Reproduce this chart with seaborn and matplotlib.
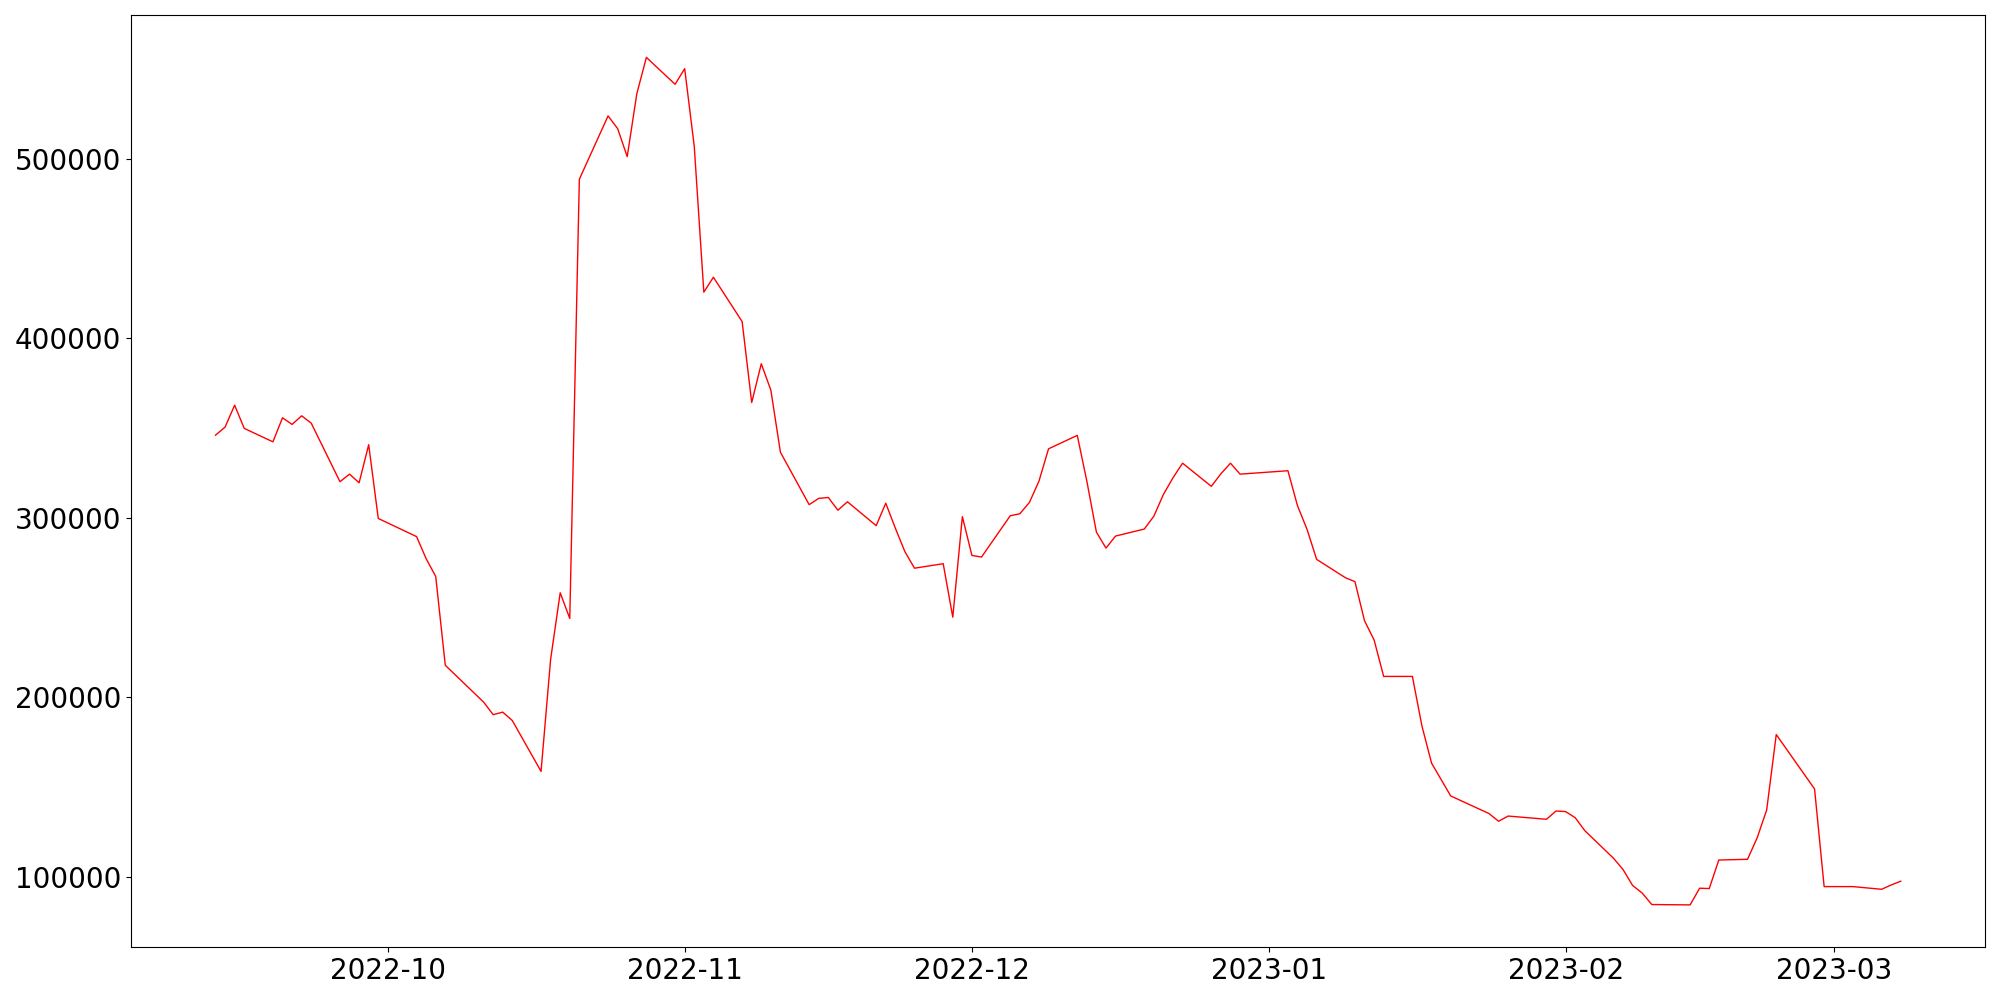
import pandas as pd
import matplotlib
matplotlib.use("Agg")
import matplotlib.pyplot as plt
import seaborn as sns

# Daily values
dates = [
    "2022-09-13", "2022-09-14", "2022-09-15", "2022-09-16", "2022-09-19",
    "2022-09-20", "2022-09-21", "2022-09-22", "2022-09-23", "2022-09-26",
    "2022-09-27", "2022-09-28", "2022-09-29", "2022-09-30", "2022-10-04",
    "2022-10-05", "2022-10-06", "2022-10-07", "2022-10-11", "2022-10-12",
    "2022-10-13", "2022-10-14", "2022-10-17", "2022-10-18", "2022-10-19",
    "2022-10-20", "2022-10-21", "2022-10-24", "2022-10-25", "2022-10-26",
    "2022-10-27", "2022-10-28", "2022-10-31", "2022-11-01", "2022-11-02",
    "2022-11-03", "2022-11-04", "2022-11-07", "2022-11-08", "2022-11-09",
    "2022-11-10", "2022-11-11", "2022-11-14", "2022-11-15", "2022-11-16",
    "2022-11-17", "2022-11-18", "2022-11-21", "2022-11-22", "2022-11-23",
    "2022-11-24", "2022-11-25", "2022-11-28", "2022-11-29", "2022-11-30",
    "2022-12-01", "2022-12-02", "2022-12-05", "2022-12-06", "2022-12-07",
    "2022-12-08", "2022-12-09", "2022-12-12", "2022-12-13", "2022-12-14",
    "2022-12-15", "2022-12-16", "2022-12-19", "2022-12-20", "2022-12-21",
    "2022-12-22", "2022-12-23", "2022-12-26", "2022-12-27", "2022-12-28",
    "2022-12-29", "2023-01-03", "2023-01-04", "2023-01-05", "2023-01-06",
    "2023-01-09", "2023-01-10", "2023-01-11", "2023-01-12", "2023-01-13",
    "2023-01-16", "2023-01-17", "2023-01-18", "2023-01-20", "2023-01-24",
    "2023-01-25", "2023-01-26", "2023-01-30", "2023-01-31", "2023-02-01",
    "2023-02-02", "2023-02-03", "2023-02-06", "2023-02-07", "2023-02-08",
    "2023-02-09", "2023-02-10", "2023-02-14", "2023-02-15", "2023-02-16",
    "2023-02-17", "2023-02-20", "2023-02-21", "2023-02-22", "2023-02-23",
    "2023-02-27", "2023-02-28", "2023-03-03", "2023-03-06", "2023-03-07",
    "2023-03-08",
]

values = [
    346100, 350600, 362800, 349900, 342400,
    355800, 352100, 356900, 352800, 320200,
    324400, 319600, 340800, 299700, 289600,
    277300, 267400, 217900, 197400, 190400,
    191800, 187100, 158800, 221200, 258300,
    244000, 488700, 524000, 516900, 501300,
    536300, 556600, 541600, 550300, 507100,
    425800, 434100, 409400, 364300, 385900,
    371200, 336600, 307400, 310900, 311400,
    304300, 309000, 295700, 308200, 294300,
    281200, 272000, 274500, 244700, 300700,
    279100, 278200, 301200, 302300, 308600,
    320500, 338500, 346000, 320500, 292100,
    283200, 289900, 293800, 301000, 313100,
    322400, 330500, 317600, 324600, 330500,
    324400, 326300, 306800, 293600, 276900,
    266700, 264500, 242700, 232000, 211700,
    211700, 184000, 163400, 145100, 135300,
    131000, 133900, 132100, 136700, 136400,
    133000, 125800, 110400, 104100, 95200,
    91000, 84600, 84400, 93700, 93500,
    109400, 109800, 121700, 137300, 179300,
    149000, 94600, 94600, 93100, 95500,
    97600,
]


def plot_series(dates, values):
    """Plot the daily series as a thin red line."""
    x = pd.to_datetime(dates)
    fig, ax = plt.subplots(figsize=(20, 10), dpi=100)
    sns.lineplot(x=x, y=values, color="red", linewidth=1, ax=ax)
    ax.set_xlabel("")
    ax.set_ylabel("")
    ax.tick_params(axis="both", labelsize=20)
    plt.tight_layout()
    plt.savefig("out.png")


def main():
    plot_series(dates, values)


if __name__ == "__main__":
    main()
